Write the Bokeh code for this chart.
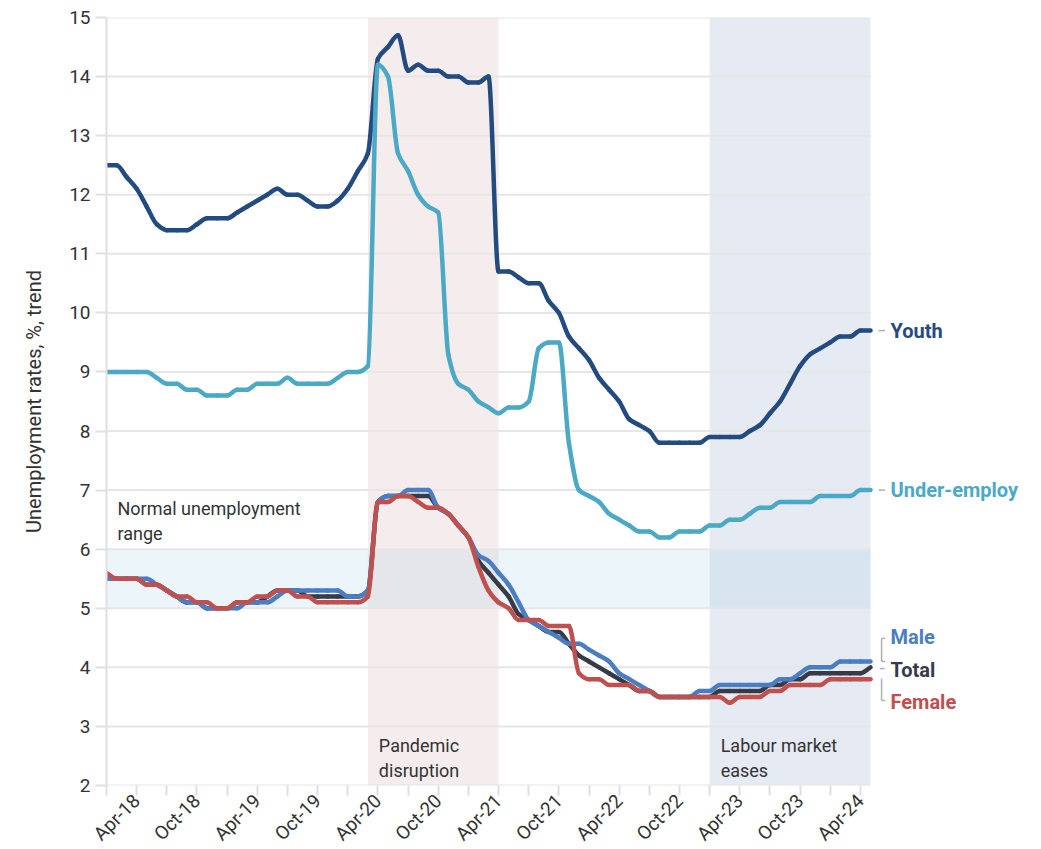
import math
from bokeh.plotting import figure
from bokeh.models import Range1d, FixedTicker, Label, BoxAnnotation
from bokeh.core.properties import value
from bokeh.embed import file_html
from bokeh.resources import INLINE

# Monthly trend series, Jan-18 (index 0) to May-24 (index 76)
month_index = list(range(77))

youth = [
    12.5, 12.5, 12.3, 12.1, 11.8, 11.5, 11.4, 11.4, 11.4, 11.5,
    11.6, 11.6, 11.6, 11.7, 11.8, 11.9, 12.0, 12.1, 12.0, 12.0,
    11.9, 11.8, 11.8, 11.9, 12.1, 12.4, 12.7, 14.3, 14.5, 14.7,
    14.1, 14.2, 14.1, 14.1, 14.0, 14.0, 13.9, 13.9, 14.0, 10.7,
    10.7, 10.6, 10.5, 10.5, 10.2, 10.0, 9.6, 9.4, 9.2, 8.9,
    8.7, 8.5, 8.2, 8.1, 8.0, 7.8, 7.8, 7.8, 7.8, 7.8,
    7.9, 7.9, 7.9, 7.9, 8.0, 8.1, 8.3, 8.5, 8.8, 9.1,
    9.3, 9.4, 9.5, 9.6, 9.6, 9.7, 9.7,
]

under_employ = [
    9.0, 9.0, 9.0, 9.0, 9.0, 8.9, 8.8, 8.8, 8.7, 8.7,
    8.6, 8.6, 8.6, 8.7, 8.7, 8.8, 8.8, 8.8, 8.9, 8.8,
    8.8, 8.8, 8.8, 8.9, 9.0, 9.0, 9.1, 14.2, 14.0, 12.7,
    12.4, 12.0, 11.8, 11.7, 9.3, 8.8, 8.7, 8.5, 8.4, 8.3,
    8.4, 8.4, 8.5, 9.4, 9.5, 9.5, 7.8, 7.0, 6.9, 6.8,
    6.6, 6.5, 6.4, 6.3, 6.3, 6.2, 6.2, 6.3, 6.3, 6.3,
    6.4, 6.4, 6.5, 6.5, 6.6, 6.7, 6.7, 6.8, 6.8, 6.8,
    6.8, 6.9, 6.9, 6.9, 6.9, 7.0, 7.0,
]

male = [
    5.5, 5.5, 5.5, 5.5, 5.5, 5.4, 5.3, 5.2, 5.1, 5.1,
    5.0, 5.0, 5.0, 5.0, 5.1, 5.1, 5.1, 5.2, 5.3, 5.3,
    5.3, 5.3, 5.3, 5.3, 5.2, 5.2, 5.3, 6.8, 6.9, 6.9,
    7.0, 7.0, 7.0, 6.7, 6.6, 6.4, 6.2, 5.9, 5.8, 5.6,
    5.4, 5.1, 4.8, 4.7, 4.6, 4.5, 4.4, 4.4, 4.3, 4.2,
    4.1, 3.9, 3.8, 3.7, 3.6, 3.5, 3.5, 3.5, 3.5, 3.6,
    3.6, 3.7, 3.7, 3.7, 3.7, 3.7, 3.7, 3.8, 3.8, 3.9,
    4.0, 4.0, 4.0, 4.1, 4.1, 4.1, 4.1,
]

total = [
    5.5, 5.5, 5.5, 5.5, 5.4, 5.4, 5.3, 5.2, 5.1, 5.1,
    5.0, 5.0, 5.0, 5.1, 5.1, 5.1, 5.2, 5.3, 5.3, 5.3,
    5.2, 5.2, 5.2, 5.2, 5.2, 5.2, 5.3, 6.8, 6.9, 6.9,
    6.9, 6.9, 6.9, 6.7, 6.6, 6.4, 6.2, 5.8, 5.6, 5.4,
    5.2, 4.9, 4.8, 4.7, 4.6, 4.6, 4.4, 4.2, 4.1, 4.0,
    3.9, 3.8, 3.7, 3.6, 3.6, 3.5, 3.5, 3.5, 3.5, 3.5,
    3.5, 3.6, 3.6, 3.6, 3.6, 3.6, 3.7, 3.7, 3.8, 3.8,
    3.9, 3.9, 3.9, 3.9, 3.9, 3.9, 4.0,
]

female = [
    5.6, 5.5, 5.5, 5.5, 5.4, 5.4, 5.3, 5.2, 5.2, 5.1,
    5.1, 5.0, 5.0, 5.1, 5.1, 5.2, 5.2, 5.3, 5.3, 5.2,
    5.2, 5.1, 5.1, 5.1, 5.1, 5.1, 5.2, 6.8, 6.8, 6.9,
    6.9, 6.8, 6.7, 6.7, 6.6, 6.4, 6.2, 5.7, 5.3, 5.1,
    5.0, 4.8, 4.8, 4.8, 4.7, 4.7, 4.7, 3.9, 3.8, 3.8,
    3.7, 3.7, 3.7, 3.6, 3.6, 3.5, 3.5, 3.5, 3.5, 3.5,
    3.5, 3.5, 3.4, 3.5, 3.5, 3.5, 3.6, 3.6, 3.7, 3.7,
    3.7, 3.7, 3.8, 3.8, 3.8, 3.8, 3.8,
]

# Tick every quarter, labels on April and October
tick_positions = list(range(0, 77, 3))
tick_labels = ["Apr-18", "Oct-18", "Apr-19", "Oct-19", "Apr-20", "Oct-20",
               "Apr-21", "Oct-21", "Apr-22", "Oct-22", "Apr-23", "Oct-23", "Apr-24"]
labelled_ticks = list(range(3, 77, 6))
y_ticks = list(range(2, 16))

# Shaded periods (month index) and the normal unemployment band
pandemic_period = (26, 39)
easing_period = (60, 76)
normal_range = (5, 6)

# Label positions for the series names at the right-hand end
name_y = {"Youth": 9.7, "Under-employ": 7.0, "Male": 4.52, "Total": 3.96, "Female": 3.42}

C_YOUTH = "#244b7f"
C_UNDER = "#4ba9c6"
C_MALE = "#4a7dc1"
C_TOTAL = "#363b47"
C_FEMALE = "#c0504e"
C_TEXT = "#333333"
C_GRID = "#e6e6e6"
C_GUIDE = "#b0b0b0"
FONT = "Roboto"

X_END = month_index[-1]
PX_PER_MONTH = 764 / X_END
FRAME_W = 935            # plot area plus room for the series names
x_span = FRAME_W / PX_PER_MONTH

p = figure(width=1041, height=849, frame_width=FRAME_W, frame_height=768,
           x_range=Range1d(0, x_span), y_range=Range1d(2, 15),
           output_backend="svg", toolbar_location=None,
           min_border_left=106, min_border_right=0,
           min_border_top=17, min_border_bottom=0)
p.outline_line_color = None
p.background_fill_color = "white"
p.xgrid.grid_line_color = None
p.ygrid.grid_line_color = None

# Background bands
p.add_layout(BoxAnnotation(left=pandemic_period[0], right=pandemic_period[1],
                           fill_color=(180, 120, 120), fill_alpha=0.135,
                           line_color=None, level="underlay"))
p.add_layout(BoxAnnotation(left=easing_period[0], right=easing_period[1],
                           fill_color=(120, 140, 190), fill_alpha=0.185,
                           line_color=None, level="underlay"))
p.add_layout(BoxAnnotation(left=0, right=X_END,
                           bottom=normal_range[0], top=normal_range[1],
                           fill_color=(159, 203, 224), fill_alpha=0.2,
                           line_color=None, level="underlay"))

# Horizontal gridlines limited to the data area
p.segment(x0=[0] * len(y_ticks), y0=y_ticks, x1=[X_END] * len(y_ticks), y1=y_ticks,
          line_color=C_GRID, line_width=2)


def smooth_line(xs, ys, color, width=4.5):
    """Draw a series as a chain of cubic Bezier pieces with monotone
    (non-overshooting) tangents, giving rounded corners between months."""
    n = len(xs)
    d = [(ys[k + 1] - ys[k]) / (xs[k + 1] - xs[k]) for k in range(n - 1)]
    m = [d[0]] + [0.0] * (n - 2) + [d[-1]]
    for k in range(1, n - 1):
        if d[k - 1] * d[k] > 0:
            m[k] = 2.0 / (1.0 / d[k - 1] + 1.0 / d[k])
    seg = {k: [] for k in ("x0", "y0", "x1", "y1", "cx0", "cy0", "cx1", "cy1")}
    for i in range(n - 1):
        h = xs[i + 1] - xs[i]
        seg["x0"].append(xs[i]); seg["y0"].append(ys[i])
        seg["x1"].append(xs[i + 1]); seg["y1"].append(ys[i + 1])
        seg["cx0"].append(xs[i] + h / 3); seg["cy0"].append(ys[i] + m[i] * h / 3)
        seg["cx1"].append(xs[i + 1] - h / 3); seg["cy1"].append(ys[i + 1] - m[i + 1] * h / 3)
    p.bezier(line_color=color, line_width=width, line_cap="round", **seg)


# Series
smooth_line(month_index, youth, C_YOUTH)
smooth_line(month_index, under_employ, C_UNDER)
smooth_line(month_index, total, C_TOTAL)
smooth_line(month_index, male, C_MALE)
smooth_line(month_index, female, C_FEMALE)

# Axes
p.yaxis.ticker = FixedTicker(ticks=y_ticks)
p.yaxis.axis_label = "Unemployment rates, %, trend"
p.yaxis.axis_label_text_font = FONT
p.yaxis.axis_label_text_font_size = "20px"
p.yaxis.axis_label_text_font_style = "normal"
p.yaxis.axis_label_text_color = C_TEXT
p.yaxis.axis_label_standoff = 20
p.yaxis.major_label_text_font = FONT
p.yaxis.major_label_text_font_size = "19px"
p.yaxis.major_label_text_color = C_TEXT
p.yaxis.major_label_standoff = 5
p.yaxis.axis_line_color = "#e0e0e0"
p.yaxis.axis_line_width = 2
p.yaxis.major_tick_line_color = "#e0e0e0"
p.yaxis.major_tick_line_width = 2
p.yaxis.major_tick_out = 11
p.yaxis.major_tick_in = 0
p.yaxis.minor_tick_line_color = None

p.xaxis.ticker = FixedTicker(ticks=tick_positions)
overrides = {t: "" for t in tick_positions}
for t, lab in zip(labelled_ticks, tick_labels):
    overrides[t] = lab
p.xaxis.major_label_overrides = overrides
p.xaxis.major_label_orientation = math.pi / 4
p.xaxis.major_label_text_font = FONT
p.xaxis.major_label_text_font_size = "19px"
p.xaxis.major_label_text_color = C_TEXT
p.xaxis.major_label_standoff = 2
p.xaxis.axis_line_color = None
p.xaxis.major_tick_line_color = "#e0e0e0"
p.xaxis.major_tick_line_width = 2
p.xaxis.major_tick_out = 10
p.xaxis.major_tick_in = 0
p.xaxis.minor_tick_line_color = None

# In-chart notes
def note(x, y, text, dy=0):
    p.add_layout(Label(x=x, y=y, x_offset=11, y_offset=dy, text=text,
                       text_font=FONT, text_font_size="18px",
                       text_color=C_TEXT, text_baseline="top"))

note(0, 6.87, "Normal unemployment")
note(0, 6.87, "range", dy=-25)
note(pandemic_period[0], 2.86, "Pandemic")
note(pandemic_period[0], 2.86, "disruption", dy=-25)
note(easing_period[0], 2.86, "Labour market")
note(easing_period[0], 2.86, "eases", dy=-25)

# Series names at the right-hand end
names = list(name_y.keys())
p.text(x=[X_END] * len(names), y=[name_y[n] for n in names], text=names,
       x_offset=20, text_font=value(FONT), text_font_size="20px",
       text_font_style="bold",
       text_color=[C_YOUTH, C_UNDER, C_MALE, C_TOTAL, C_FEMALE],
       text_baseline="middle", text_align="left")

# Leader marks between line ends and names
gx0, gx1 = X_END + 1.1, X_END + 1.45
guides = [
    (X_END + 0.8, youth[-1], X_END + 1.45, youth[-1]),
    (X_END + 0.8, under_employ[-1], X_END + 1.45, under_employ[-1]),
    (gx0, 4.49, gx0, 4.10), (gx0, 4.49, gx1, 4.49), (gx0, 4.10, gx1, 4.10),
    (X_END + 0.95, 3.98, X_END + 1.4, 3.98),
    (gx0, 3.81, gx0, 3.44), (gx0, 3.44, gx1, 3.44),
]
p.segment(x0=[g[0] for g in guides], y0=[g[1] for g in guides],
          x1=[g[2] for g in guides], y1=[g[3] for g in guides],
          line_color=C_GUIDE, line_width=1.5)

open("out.html", "w").write(file_html(p, INLINE))
